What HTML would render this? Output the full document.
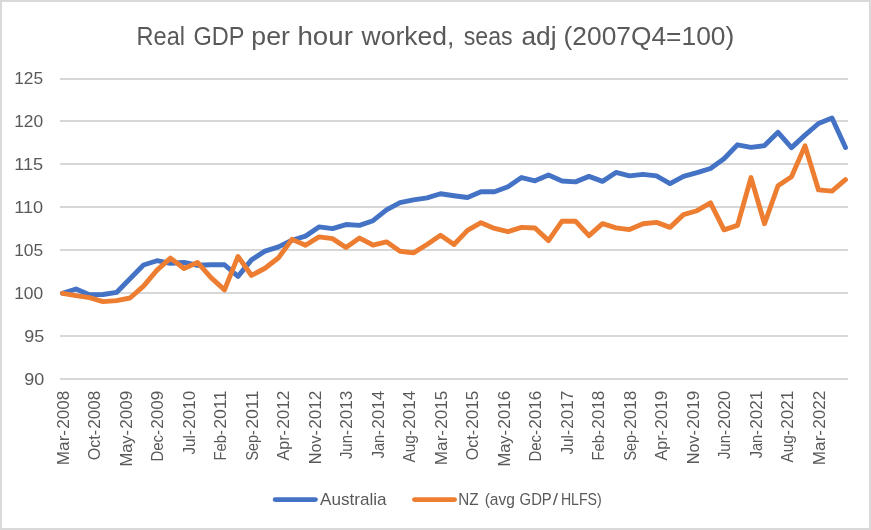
<!DOCTYPE html>
<html lang="en"><head><meta charset="utf-8"><title>Real GDP per hour worked</title>
<style>
html,body{margin:0;padding:0;background:#fff;}
body{width:871px;height:530px;overflow:hidden;}
svg{display:block;}
text{font-family:"Liberation Sans", sans-serif;fill:#595959;}
.ax{font-size:16.6px;}
.ttl{font-size:25.6px;}
</style></head><body>
<svg width="871" height="530" viewBox="0 0 871 530">
<rect x="0" y="0" width="871" height="530" fill="#ffffff"/>
<rect x="1" y="1" width="869" height="528" fill="none" stroke="#D9D9D9" stroke-width="2"/>

<g fill="#D7D7D7">
<rect x="60" y="78" width="788" height="2"/>
<rect x="60" y="120" width="788" height="2"/>
<rect x="60" y="163" width="788" height="2"/>
<rect x="60" y="206" width="788" height="2"/>
<rect x="60" y="249" width="788" height="2"/>
<rect x="60" y="292" width="788" height="2"/>
<rect x="60" y="335" width="788" height="2"/>
<rect x="60" y="378" width="788" height="2"/>
</g>
<g class="ax">
<text x="14.20" y="84.00" textLength="29.00" lengthAdjust="spacingAndGlyphs">125</text>
<text x="14.20" y="127.00" textLength="29.00" lengthAdjust="spacingAndGlyphs">120</text>
<text x="14.20" y="170.00" textLength="29.00" lengthAdjust="spacingAndGlyphs">115</text>
<text x="14.20" y="213.00" textLength="29.00" lengthAdjust="spacingAndGlyphs">110</text>
<text x="14.20" y="256.00" textLength="29.00" lengthAdjust="spacingAndGlyphs">105</text>
<text x="14.20" y="299.00" textLength="29.00" lengthAdjust="spacingAndGlyphs">100</text>
<text x="24.30" y="342.00" textLength="20.00" lengthAdjust="spacingAndGlyphs">95</text>
<text x="24.30" y="385.00" textLength="20.00" lengthAdjust="spacingAndGlyphs">90</text>
</g>
<g class="ax">
<text transform="translate(68.70 470) rotate(-90)"><tspan x="4.86" textLength="35.19" lengthAdjust="spacingAndGlyphs">Mar-</tspan><tspan x="41.18" textLength="38.08" lengthAdjust="spacingAndGlyphs">2008</tspan></text>
<text transform="translate(100.20 470) rotate(-90)"><tspan x="9.72" textLength="30.28" lengthAdjust="spacingAndGlyphs">Oct-</tspan><tspan x="41.18" textLength="38.08" lengthAdjust="spacingAndGlyphs">2008</tspan></text>
<text transform="translate(131.70 470) rotate(-90)"><tspan x="3.41" textLength="36.61" lengthAdjust="spacingAndGlyphs">May-</tspan><tspan x="41.18" textLength="38.08" lengthAdjust="spacingAndGlyphs">2009</tspan></text>
<text transform="translate(163.20 470) rotate(-90)"><tspan x="8.43" textLength="31.52" lengthAdjust="spacingAndGlyphs">Dec-</tspan><tspan x="41.18" textLength="38.08" lengthAdjust="spacingAndGlyphs">2009</tspan></text>
<text transform="translate(194.70 470) rotate(-90)"><tspan x="15.52" textLength="24.45" lengthAdjust="spacingAndGlyphs">Jul-</tspan><tspan x="41.18" textLength="38.08" lengthAdjust="spacingAndGlyphs">2010</tspan></text>
<text transform="translate(226.20 470) rotate(-90)"><tspan x="9.44" textLength="30.51" lengthAdjust="spacingAndGlyphs">Feb-</tspan><tspan x="41.18" textLength="38.08" lengthAdjust="spacingAndGlyphs">2011</tspan></text>
<text transform="translate(257.70 470) rotate(-90)"><tspan x="9.49" textLength="30.44" lengthAdjust="spacingAndGlyphs">Sep-</tspan><tspan x="41.18" textLength="38.08" lengthAdjust="spacingAndGlyphs">2011</tspan></text>
<text transform="translate(289.20 470) rotate(-90)"><tspan x="9.40" textLength="30.61" lengthAdjust="spacingAndGlyphs">Apr-</tspan><tspan x="41.18" textLength="38.08" lengthAdjust="spacingAndGlyphs">2012</tspan></text>
<text transform="translate(320.70 470) rotate(-90)"><tspan x="5.73" textLength="34.28" lengthAdjust="spacingAndGlyphs">Nov-</tspan><tspan x="41.18" textLength="38.08" lengthAdjust="spacingAndGlyphs">2012</tspan></text>
<text transform="translate(352.20 470) rotate(-90)"><tspan x="10.92" textLength="29.03" lengthAdjust="spacingAndGlyphs">Jun-</tspan><tspan x="41.18" textLength="38.08" lengthAdjust="spacingAndGlyphs">2013</tspan></text>
<text transform="translate(383.70 470) rotate(-90)"><tspan x="11.73" textLength="28.21" lengthAdjust="spacingAndGlyphs">Jan-</tspan><tspan x="41.18" textLength="38.08" lengthAdjust="spacingAndGlyphs">2014</tspan></text>
<text transform="translate(415.20 470) rotate(-90)"><tspan x="7.40" textLength="32.58" lengthAdjust="spacingAndGlyphs">Aug-</tspan><tspan x="41.18" textLength="38.08" lengthAdjust="spacingAndGlyphs">2014</tspan></text>
<text transform="translate(446.70 470) rotate(-90)"><tspan x="4.86" textLength="35.19" lengthAdjust="spacingAndGlyphs">Mar-</tspan><tspan x="41.18" textLength="38.08" lengthAdjust="spacingAndGlyphs">2015</tspan></text>
<text transform="translate(478.20 470) rotate(-90)"><tspan x="9.72" textLength="30.28" lengthAdjust="spacingAndGlyphs">Oct-</tspan><tspan x="41.18" textLength="38.08" lengthAdjust="spacingAndGlyphs">2015</tspan></text>
<text transform="translate(509.70 470) rotate(-90)"><tspan x="3.41" textLength="36.61" lengthAdjust="spacingAndGlyphs">May-</tspan><tspan x="41.18" textLength="38.08" lengthAdjust="spacingAndGlyphs">2016</tspan></text>
<text transform="translate(541.20 470) rotate(-90)"><tspan x="8.43" textLength="31.52" lengthAdjust="spacingAndGlyphs">Dec-</tspan><tspan x="41.18" textLength="38.08" lengthAdjust="spacingAndGlyphs">2016</tspan></text>
<text transform="translate(572.70 470) rotate(-90)"><tspan x="15.52" textLength="24.45" lengthAdjust="spacingAndGlyphs">Jul-</tspan><tspan x="41.18" textLength="38.08" lengthAdjust="spacingAndGlyphs">2017</tspan></text>
<text transform="translate(604.20 470) rotate(-90)"><tspan x="9.44" textLength="30.51" lengthAdjust="spacingAndGlyphs">Feb-</tspan><tspan x="41.18" textLength="38.08" lengthAdjust="spacingAndGlyphs">2018</tspan></text>
<text transform="translate(635.70 470) rotate(-90)"><tspan x="9.49" textLength="30.44" lengthAdjust="spacingAndGlyphs">Sep-</tspan><tspan x="41.18" textLength="38.08" lengthAdjust="spacingAndGlyphs">2018</tspan></text>
<text transform="translate(667.20 470) rotate(-90)"><tspan x="9.40" textLength="30.61" lengthAdjust="spacingAndGlyphs">Apr-</tspan><tspan x="41.18" textLength="38.08" lengthAdjust="spacingAndGlyphs">2019</tspan></text>
<text transform="translate(698.70 470) rotate(-90)"><tspan x="5.73" textLength="34.28" lengthAdjust="spacingAndGlyphs">Nov-</tspan><tspan x="41.18" textLength="38.08" lengthAdjust="spacingAndGlyphs">2019</tspan></text>
<text transform="translate(730.20 470) rotate(-90)"><tspan x="10.92" textLength="29.03" lengthAdjust="spacingAndGlyphs">Jun-</tspan><tspan x="41.18" textLength="38.08" lengthAdjust="spacingAndGlyphs">2020</tspan></text>
<text transform="translate(761.70 470) rotate(-90)"><tspan x="11.73" textLength="28.21" lengthAdjust="spacingAndGlyphs">Jan-</tspan><tspan x="41.18" textLength="38.08" lengthAdjust="spacingAndGlyphs">2021</tspan></text>
<text transform="translate(793.20 470) rotate(-90)"><tspan x="7.40" textLength="32.58" lengthAdjust="spacingAndGlyphs">Aug-</tspan><tspan x="41.18" textLength="38.08" lengthAdjust="spacingAndGlyphs">2021</tspan></text>
<text transform="translate(824.70 470) rotate(-90)"><tspan x="4.86" textLength="35.19" lengthAdjust="spacingAndGlyphs">Mar-</tspan><tspan x="41.18" textLength="38.08" lengthAdjust="spacingAndGlyphs">2022</tspan></text>
</g>
<path d="M62.50 293.29 L76.00 289.00 L89.50 294.74 L103.00 294.49 L116.50 292.43 L130.00 278.71 L143.50 265.00 L157.00 260.71 L170.50 263.29 L184.00 262.43 L197.50 265.26 L211.00 264.74 L224.50 264.74 L238.00 276.40 L251.50 259.86 L265.00 251.11 L278.50 246.91 L292.00 240.23 L305.50 236.11 L319.00 226.94 L332.50 228.57 L346.00 224.54 L359.50 225.40 L373.00 220.69 L386.50 209.89 L400.00 202.60 L413.50 199.94 L427.00 197.89 L440.50 193.77 L454.00 195.74 L467.50 197.54 L481.00 191.80 L494.50 191.80 L508.00 186.74 L521.50 177.57 L535.00 180.83 L548.50 175.00 L562.00 181.00 L575.50 181.86 L589.00 176.37 L602.50 181.34 L616.00 172.43 L629.50 175.86 L643.00 174.31 L656.50 175.94 L670.00 183.57 L683.50 176.29 L697.00 172.69 L710.50 168.49 L724.00 158.71 L737.50 144.83 L751.00 147.31 L764.50 145.60 L778.00 132.31 L791.50 147.66 L805.00 135.14 L818.50 123.49 L832.00 118.09 L845.50 147.57" fill="none" stroke="#4472C4" stroke-width="4.9" stroke-linejoin="round" stroke-linecap="round"/>
<path d="M62.50 293.29 L76.00 295.60 L89.50 297.57 L103.00 301.60 L116.50 300.57 L130.00 298.00 L143.50 286.09 L157.00 270.14 L170.50 258.14 L184.00 268.43 L197.50 262.43 L211.00 277.69 L224.50 289.86 L238.00 256.43 L251.50 275.46 L265.00 268.26 L278.50 257.71 L292.00 239.37 L305.50 245.29 L319.00 236.89 L332.50 238.60 L346.00 247.51 L359.50 238.09 L373.00 245.03 L386.50 241.86 L400.00 251.20 L413.50 252.83 L427.00 244.51 L440.50 235.34 L454.00 244.51 L467.50 230.37 L481.00 222.66 L494.50 228.40 L508.00 231.57 L521.50 227.37 L535.00 228.06 L548.50 240.66 L562.00 221.20 L575.50 221.20 L589.00 235.69 L602.50 223.69 L616.00 227.89 L629.50 229.60 L643.00 223.77 L656.50 222.40 L670.00 227.37 L683.50 214.60 L697.00 210.74 L710.50 202.86 L724.00 229.86 L737.50 225.40 L751.00 177.57 L764.50 223.77 L778.00 185.80 L791.50 176.71 L805.00 145.86 L818.50 189.91 L832.00 191.11 L845.50 179.71" fill="none" stroke="#ED7D31" stroke-width="4.9" stroke-linejoin="round" stroke-linecap="round"/>
<g class="ttl">
<text y="44.7"><tspan x="136.57" textLength="48.49" lengthAdjust="spacingAndGlyphs">Real</tspan> <tspan x="193.41" textLength="50.56" lengthAdjust="spacingAndGlyphs">GDP</tspan> <tspan x="251.33" textLength="38.51" lengthAdjust="spacingAndGlyphs">per</tspan> <tspan x="297.46" textLength="55.40" lengthAdjust="spacingAndGlyphs">hour</tspan> <tspan x="361.60" textLength="92.79" lengthAdjust="spacingAndGlyphs">worked,</tspan> <tspan x="463.77" textLength="48.85" lengthAdjust="spacingAndGlyphs">seas</tspan> <tspan x="521.47" textLength="35.06" lengthAdjust="spacingAndGlyphs">adj</tspan> <tspan x="563.56" textLength="170.71" lengthAdjust="spacingAndGlyphs">(2007Q4=100)</tspan></text>
</g>
<line x1="275.2" x2="315.4" y1="499.6" y2="499.6" stroke="#4472C4" stroke-width="4.9" stroke-linecap="round"/>
<line x1="414.5" x2="454.5" y1="499.6" y2="499.6" stroke="#ED7D31" stroke-width="4.9" stroke-linecap="round"/>
<g class="ax">
<text x="320" y="505" textLength="66.5" lengthAdjust="spacingAndGlyphs">Australia</text>
<text y="505"><tspan x="458.21" textLength="20.30" lengthAdjust="spacingAndGlyphs">NZ</tspan> <tspan x="484.66" textLength="30.20" lengthAdjust="spacingAndGlyphs">(avg</tspan> <tspan x="519.58" textLength="32.20" lengthAdjust="spacingAndGlyphs">GDP</tspan><tspan x="552.85" textLength="5.30" lengthAdjust="spacingAndGlyphs">/</tspan><tspan x="560.89" textLength="40.88" lengthAdjust="spacingAndGlyphs">HLFS)</tspan></text>
</g>
</svg></body></html>
